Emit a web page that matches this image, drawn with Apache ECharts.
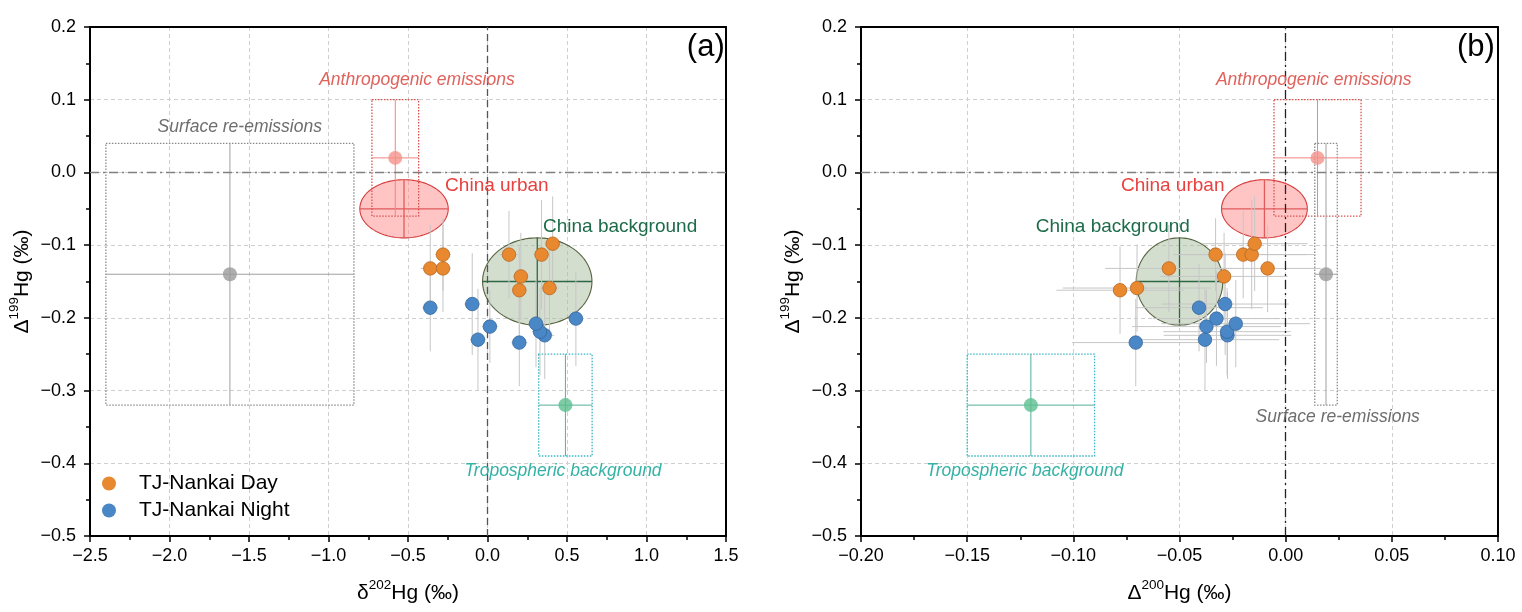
<!DOCTYPE html>
<html>
<head>
<meta charset="utf-8">
<script src="https://cdn.jsdelivr.net/npm/echarts@6/dist/echarts.min.js"></script>
<style>
html,body{margin:0;padding:0;background:#fff;}
#chart{width:1522px;height:612px;}
</style>
</head>
<body>
<div id="chart"></div>
<script>
// ---------------- DATA ----------------
// TJ-Nankai Day samples
const dayD199 = [-0.162, -0.159, -0.143, -0.132, -0.132, -0.113, -0.113, -0.113, -0.098];
const dayD202 = [0.20, 0.39, 0.21, -0.36, -0.28, -0.28, 0.135, 0.34, 0.41];
const dayD200 = [-0.078, -0.070, -0.029, -0.055, -0.0085, -0.033, -0.020, -0.016, -0.0146];
const dayErr199 = [0.06, 0.06, 0.06, 0.06, 0.06, 0.05, 0.06, 0.075, 0.065];
const dayErr202 = [0.05, 0.06, 0.05, 0.06, 0.05, 0.05, 0.06, 0.05, 0.05];
const dayErr200 = [0.030, 0.035, 0.030, 0.030, 0.025, 0.020, 0.030, 0.030, 0.025];

// TJ-Nankai Night samples
const nightD199 = [-0.234, -0.230, -0.224, -0.219, -0.212, -0.208, -0.201, -0.186, -0.181];
const nightD202 = [0.20, -0.06, 0.36, 0.33, 0.015, 0.305, 0.556, -0.36, -0.096];
const nightD200 = [-0.0706, -0.038, -0.0274, -0.0276, -0.0373, -0.0235, -0.0326, -0.0408, -0.0285];
const nightErr199 = [0.06, 0.07, 0.06, 0.06, 0.05, 0.06, 0.065, 0.06, 0.07];
const nightErr202 = [0.05, 0.05, 0.06, 0.05, 0.05, 0.05, 0.05, 0.05, 0.05];
const nightErr200 = [0.030, 0.035, 0.030, 0.030, 0.035, 0.035, 0.030, 0.030, 0.030];

// End-member sources (point + uncertainty box)
const sourceNames = ['Anthropogenic emissions', 'Surface re-emissions', 'Tropospheric background'];
const srcD202 = [-0.58, -1.62, 0.49];
const srcErr202 = [0.147, 0.78, 0.168];
const srcD199 = [0.02, -0.14, -0.32];
const srcErr199 = [0.08, 0.18, 0.07];
const srcD200 = [0.015, 0.019, -0.12];
const srcErr200 = [0.0205, 0.0053, 0.03];

// Regional ellipses (center +/- radius)
const regionNames = ['China urban', 'China background'];
const regD202 = [-0.525, 0.313];
const regR202 = [0.278, 0.344];
const regD199 = [-0.05, -0.15];
const regR199 = [0.04, 0.06];
const regD200 = [-0.01, -0.05];
const regR200 = [0.0202, 0.0204];

// Annotation texts and their anchors (data units)
const annotA_text = ['Anthropogenic emissions', 'Surface re-emissions', 'China urban', 'China background', 'Tropospheric background', '(a)'];
const annotA_x = [-0.444, -1.558, 0.059, 0.834, 0.475, 1.492];
const annotA_y = [0.127, 0.062, -0.019, -0.075, -0.411, 0.172];
const annotB_text = ['Anthropogenic emissions', 'China urban', 'China background', 'Surface re-emissions', 'Tropospheric background', '(b)'];
const annotB_x = [0.0132, -0.0532, -0.0814, 0.0245, -0.1228, 0.0985];
const annotB_y = [0.127, -0.019, -0.075, -0.336, -0.411, 0.172];

// Axis tick settings
const xTicksA = {min: -2.5, max: 1.5, interval: 0.5, decimals: 1};
const xTicksB = {min: -0.20, max: 0.10, interval: 0.05, decimals: 2};
const yTicks = {min: -0.5, max: 0.2, interval: 0.1, decimals: 1};

// ---------------- STYLES ----------------
const FONT = '"Liberation Sans", Arial, Helvetica, sans-serif';
const srcStyle = [
  {point: '#f4928b', line: '#f0857e', box: '#d9534f'},
  {point: '#9a9a9a', line: '#a0a0a0', box: '#8a8a8a'},
  {point: '#5cbf90', line: '#52b09a', box: '#39b5c2'}
];
const regStyle = [
  {fill: 'rgba(255,140,140,0.5)', stroke: '#d63c3c', cross: '#e05a5a'},
  {fill: 'rgba(170,190,160,0.5)', stroke: '#56633f', cross: '#2c6844'}
];
const annotStyle = {
  'Anthropogenic emissions': {fill: '#e0625c', size: 17.5, italic: true, align: 'center'},
  'Surface re-emissions': {fill: '#6e6e6e', size: 17.5, italic: true, align: 'center'},
  'Tropospheric background': {fill: '#35b2a5', size: 17.5, italic: true, align: 'center'},
  'China urban': {fill: '#e8413f', size: 19, italic: false, align: 'center'},
  'China background': {fill: '#1d6b49', size: 19, italic: false, align: 'center'},
  '(a)': {fill: '#000', size: 31, italic: false, align: 'right'},
  '(b)': {fill: '#000', size: 31, italic: false, align: 'right'}
};

const rows = (...arrs) => arrs[0].map((_, i) => arrs.map(a => a[i]));
const fmt = d => v => v.toFixed(d).replace('-', '\u2212');

function errSeries(gi, data, colorFn, z) {
  return {
    type: 'custom', xAxisIndex: gi, yAxisIndex: gi, z: z, silent: true, data: data,
    encode: {x: 0, y: 1},
    renderItem: function (p, api) {
      const x = api.value(0), y = api.value(1), ex = api.value(2), ey = api.value(3);
      const l = api.coord([x - ex, y]), r = api.coord([x + ex, y]);
      const t = api.coord([x, y + ey]), b = api.coord([x, y - ey]);
      const c = colorFn(p.dataIndex);
      return {type: 'group', children: [
        {type: 'line', shape: {x1: l[0], y1: l[1], x2: r[0], y2: r[1]}, style: {stroke: c, lineWidth: 1}},
        {type: 'line', shape: {x1: t[0], y1: t[1], x2: b[0], y2: b[1]}, style: {stroke: c, lineWidth: 1}}
      ]};
    }
  };
}

function boxSeries(gi, data) {
  return {
    type: 'custom', xAxisIndex: gi, yAxisIndex: gi, z: 2, silent: true, data: data,
    encode: {x: 0, y: 1},
    renderItem: function (p, api) {
      const x = api.value(0), y = api.value(1), ex = api.value(2), ey = api.value(3);
      const tl = api.coord([x - ex, y + ey]), br = api.coord([x + ex, y - ey]);
      return {type: 'rect', shape: {x: tl[0], y: tl[1], width: br[0] - tl[0], height: br[1] - tl[1]},
        style: {fill: 'none', stroke: srcStyle[p.dataIndex].box, lineWidth: 1.3, lineDash: [1.5, 1.5]}};
    }
  };
}

function ellipseSeries(gi, data) {
  return {
    type: 'custom', xAxisIndex: gi, yAxisIndex: gi, z: 1, silent: true, data: data,
    encode: {x: 0, y: 1},
    renderItem: function (p, api) {
      const cx = api.value(0), cy = api.value(1), rx = api.value(2), ry = api.value(3);
      const pts = [];
      for (let k = 0; k < 120; k++) {
        const a = 2 * Math.PI * k / 120;
        pts.push(api.coord([cx + rx * Math.cos(a), cy + ry * Math.sin(a)]));
      }
      const st = regStyle[p.dataIndex];
      const l = api.coord([cx - rx, cy]), r = api.coord([cx + rx, cy]);
      const t = api.coord([cx, cy + ry]), b = api.coord([cx, cy - ry]);
      return {type: 'group', children: [
        {type: 'polygon', shape: {points: pts}, style: {fill: st.fill, stroke: st.stroke, lineWidth: 1.1}},
        {type: 'line', shape: {x1: l[0], y1: l[1], x2: r[0], y2: r[1]}, style: {stroke: st.cross, lineWidth: 1.3}},
        {type: 'line', shape: {x1: t[0], y1: t[1], x2: b[0], y2: b[1]}, style: {stroke: st.cross, lineWidth: 1.3}}
      ]};
    }
  };
}

function textSeries(gi, xs, ys, texts) {
  return {
    type: 'custom', xAxisIndex: gi, yAxisIndex: gi, z: 10, silent: true, data: rows(xs, ys),
    encode: {x: 0, y: 1},
    renderItem: function (p, api) {
      const c = api.coord([api.value(0), api.value(1)]);
      const txt = texts[p.dataIndex];
      const s = annotStyle[txt];
      return {type: 'text', x: c[0], y: c[1], style: {
        text: txt, fill: s.fill, fontSize: s.size, fontFamily: FONT,
        fontStyle: s.italic ? 'italic' : 'normal', align: s.align, verticalAlign: 'middle'
      }};
    }
  };
}

function sampleSeries(gi, name, xs, ys, fill, border) {
  return {
    type: 'scatter', name: name, xAxisIndex: gi, yAxisIndex: gi, z: 6,
    data: rows(xs, ys), symbol: 'circle', symbolSize: 13.5,
    itemStyle: {color: fill, borderColor: border, borderWidth: 0.8, opacity: 1}
  };
}

function sourcePointSeries(gi, xs, ys) {
  return {
    type: 'scatter', xAxisIndex: gi, yAxisIndex: gi, z: 5, silent: true,
    data: rows(xs, ys).map((v, i) => ({value: v, itemStyle: {color: srcStyle[i].point}})),
    symbol: 'circle', symbolSize: 14
  };
}

function zeroLines(gi, vStyle) {
  return {
    type: 'scatter', xAxisIndex: gi, yAxisIndex: gi, data: [], silent: true, z: 3,
    markLine: {
      silent: true, symbol: ['none', 'none'], label: {show: false}, animation: false,
      data: [
        {yAxis: 0, lineStyle: {color: '#808080', type: [9, 4, 2, 4], width: 1.4}},
        {xAxis: 0, lineStyle: vStyle}
      ]
    }
  };
}

const nameRich = {
  n: {fontSize: 21, fontFamily: FONT, color: '#000', lineHeight: 26, verticalAlign: 'bottom'},
  s: {fontSize: 13.5, fontFamily: FONT, color: '#000', lineHeight: 26, verticalAlign: 'top'}
};

function xAxis(gi, t, nameParts) {
  return {
    type: 'value', gridIndex: gi, min: t.min, max: t.max, interval: t.interval,
    name: '{n|' + nameParts[0] + '}{s|' + nameParts[1] + '}{n|' + nameParts[2] + '}',
    nameLocation: 'middle', nameGap: 42,
    nameTextStyle: {rich: nameRich},
    axisLine: {show: true, onZero: false, lineStyle: {color: '#000', width: 2}},
    axisTick: {show: true, length: 6, lineStyle: {color: '#000', width: 1.5}},
    minorTick: {show: true, splitNumber: 2, length: 4, lineStyle: {color: '#000', width: 1.5}},
    splitLine: {show: true, lineStyle: {color: '#cfcfcf', width: 1, type: [4, 3]}},
    axisLabel: {fontSize: 18, color: '#000', fontFamily: FONT, margin: 11, formatter: fmt(t.decimals)}
  };
}

function yAxis(gi) {
  return {
    type: 'value', gridIndex: gi, min: yTicks.min, max: yTicks.max, interval: yTicks.interval,
    name: '{n|\u0394}{s|199}{n|Hg (\u2030)}',
    nameLocation: 'middle', nameGap: 57, nameRotate: 90,
    nameTextStyle: {rich: nameRich},
    axisLine: {show: true, onZero: false, lineStyle: {color: '#000', width: 2}},
    axisTick: {show: true, length: 6, lineStyle: {color: '#000', width: 1.5}},
    minorTick: {show: true, splitNumber: 2, length: 4, lineStyle: {color: '#000', width: 1.5}},
    splitLine: {show: true, lineStyle: {color: '#cfcfcf', width: 1, type: [4, 3]}},
    axisLabel: {fontSize: 18, color: '#000', fontFamily: FONT, margin: 14, formatter: fmt(yTicks.decimals)}
  };
}

// frame axes (top / right) with the same scale, no labels
function frameX(gi, t) {
  return {type: 'value', gridIndex: gi, position: 'top', min: t.min, max: t.max, interval: t.interval,
    axisLine: {show: true, onZero: false, lineStyle: {color: '#000', width: 2}},
    axisTick: {show: false}, axisLabel: {show: false}, splitLine: {show: false}};
}
function frameY(gi) {
  return {type: 'value', gridIndex: gi, position: 'right', min: yTicks.min, max: yTicks.max, interval: yTicks.interval,
    axisLine: {show: true, onZero: false, lineStyle: {color: '#000', width: 2}},
    axisTick: {show: false}, axisLabel: {show: false}, splitLine: {show: false}};
}

const chart = echarts.init(document.getElementById('chart'), null, {renderer: 'canvas'});
const grey = () => '#c6c6c6';

const option = {
  animation: false,
  backgroundColor: '#fff',
  textStyle: {fontFamily: FONT},
  grid: [
    {left: 90, right: 796, top: 27, bottom: 76, containLabel: false, outerBoundsMode: 'none'},
    {left: 861, right: 24, top: 27, bottom: 76, containLabel: false, outerBoundsMode: 'none'}
  ],
  xAxis: [
    xAxis(0, xTicksA, ['\u03b4', '202', 'Hg (\u2030)']),
    xAxis(1, xTicksB, ['\u0394', '200', 'Hg (\u2030)']),
    frameX(0, xTicksA),
    frameX(1, xTicksB)
  ],
  yAxis: [yAxis(0), yAxis(1), frameY(0), frameY(1)],
  legend: {
    data: ['TJ-Nankai Day', 'TJ-Nankai Night'],
    orient: 'vertical', left: 102, top: 473, padding: 0,
    itemWidth: 14, itemHeight: 14, itemGap: 6, icon: 'circle',
    itemStyle: {borderWidth: 0},
    textStyle: {fontSize: 21, color: '#000', fontFamily: FONT, padding: [0, 0, 0, 18]}
  },
  series: [
    // Panel (a)
    ellipseSeries(0, rows(regD202, regD199, regR202, regR199)),
    boxSeries(0, rows(srcD202, srcD199, srcErr202, srcErr199)),
    errSeries(0, rows(srcD202, srcD199, srcErr202, srcErr199), i => srcStyle[i].line, 3),
    zeroLines(0, {color: '#555', type: [7, 4], width: 1.3}),
    errSeries(0, rows(dayD202, dayD199, dayErr202, dayErr199), grey, 4),
    errSeries(0, rows(nightD202, nightD199, nightErr202, nightErr199), grey, 4),
    sourcePointSeries(0, srcD202, srcD199),
    sampleSeries(0, 'TJ-Nankai Day', dayD202, dayD199, '#e8892f', '#b8661f'),
    sampleSeries(0, 'TJ-Nankai Night', nightD202, nightD199, '#4a87c6', '#33669c'),
    textSeries(0, annotA_x, annotA_y, annotA_text),
    // Panel (b)
    ellipseSeries(1, rows(regD200, regD199, regR200, regR199)),
    boxSeries(1, rows(srcD200, srcD199, srcErr200, srcErr199)),
    errSeries(1, rows(srcD200, srcD199, srcErr200, srcErr199), i => srcStyle[i].line, 3),
    zeroLines(1, {color: '#222', type: [9, 4, 2, 4], width: 1.3}),
    errSeries(1, rows(dayD200, dayD199, dayErr200, dayErr199), grey, 4),
    errSeries(1, rows(nightD200, nightD199, nightErr200, nightErr199), grey, 4),
    sourcePointSeries(1, srcD200, srcD199),
    sampleSeries(1, 'TJ-Nankai Day', dayD200, dayD199, '#e8892f', '#b8661f'),
    sampleSeries(1, 'TJ-Nankai Night', nightD200, nightD199, '#4a87c6', '#33669c'),
    textSeries(1, annotB_x, annotB_y, annotB_text)
  ]
};
chart.setOption(option);
</script>
</body>
</html>
